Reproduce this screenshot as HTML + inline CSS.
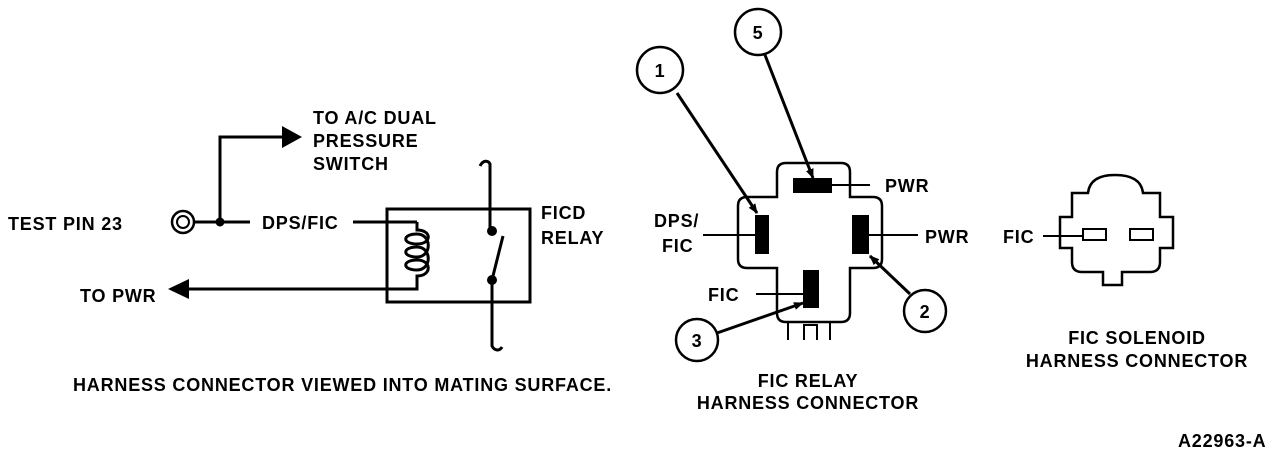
<!DOCTYPE html>
<html><head><style>
html,body{margin:0;padding:0;background:#fff;}
svg{display:block}
text{font-family:"Liberation Sans",Arial,sans-serif;font-weight:bold;font-size:18px;letter-spacing:0.8px;fill:#000}
</style></head><body>
<svg width="1280" height="458" viewBox="0 0 1280 458" xmlns="http://www.w3.org/2000/svg">
<defs>
<marker id="ah" markerWidth="10" markerHeight="8" refX="9" refY="4" orient="auto" markerUnits="userSpaceOnUse">
<path d="M0,0 L10,4 L0,8 z" fill="#000"/></marker>
</defs>
<g stroke="#000" stroke-width="3" fill="none">
<circle cx="183" cy="222" r="11" stroke-width="2.5"/>
<circle cx="183" cy="222" r="6" stroke-width="2"/>
<line x1="194" y1="222" x2="250" y2="222"/>
<polyline points="220,222 220,137 284,137"/>
<line x1="353" y1="222" x2="417" y2="222"/>
<rect x="387" y="209" width="143" height="93"/>
<path d="M417,222 V230 C432,230 432,244 417,244 C402,244 402,234 417,234 C432,234 432,257 417,257 C402,257 402,247 417,247 C432,247 432,270 417,270 C402,270 402,260 417,260 C432,260 432,276 417,276 V289 H186"/>
<path d="M480,166 C483,160 488,160 490,164 V231"/>
<line x1="492" y1="280" x2="503" y2="236"/>
<path d="M492,280 V346 C494,350 499,352 502,347"/>
<path d="M777,197 V172 Q777,163 786,163 H841 Q850,163 850,172 V197 H873 Q882,197 882,206 V259 Q882,268 873,268 H850 V313 Q850,322 841,322 H786 Q777,322 777,313 V268 H747 Q738,268 738,259 V206 Q738,197 747,197 Z" stroke-width="2.5"/>
<path d="M788,322 V340 M830,322 V340 M804,340 V325 H817 V340" stroke-width="2"/>
<line x1="832" y1="185" x2="870" y2="185" stroke-width="2"/>
<line x1="869" y1="235" x2="918" y2="235" stroke-width="2"/>
<line x1="703" y1="235" x2="755" y2="235" stroke-width="2"/>
<line x1="756" y1="294" x2="803" y2="294" stroke-width="2"/>
<circle cx="660" cy="70" r="23" stroke-width="2.5"/>
<circle cx="758" cy="32" r="23" stroke-width="2.5"/>
<circle cx="925" cy="311" r="21" stroke-width="2.5"/>
<circle cx="697" cy="340" r="21" stroke-width="2.5"/>
<line x1="677" y1="93" x2="757" y2="213" marker-end="url(#ah)"/>
<line x1="765" y1="55" x2="813" y2="178" marker-end="url(#ah)"/>
<line x1="910" y1="294" x2="870" y2="256" marker-end="url(#ah)"/>
<line x1="717" y1="333" x2="803" y2="303" marker-end="url(#ah)"/>
<path d="M1088,193 Q1090,175 1115,175 Q1141,175 1143,193 H1160 V217 H1173 V248 H1160 V262 Q1160,272 1150,272 H1122 V285 H1103 V272 H1082 Q1072,272 1072,262 V248 H1060 V217 H1072 V193 Z" stroke-width="2.5"/>
<rect x="1083" y="229" width="23" height="11" stroke-width="2"/>
<rect x="1130" y="229" width="23" height="11" stroke-width="2"/>
<line x1="1043" y1="236" x2="1083" y2="236" stroke-width="2"/>
</g>
<g fill="#000">
<circle cx="220" cy="222" r="4.5"/>
<path d="M282,126 L302,137 L282,148 z"/>
<path d="M168,289 L189,279 L189,299 z"/>
<circle cx="492" cy="231" r="5"/>
<circle cx="492" cy="280" r="5"/>
<rect x="793" y="178" width="39" height="15"/>
<rect x="755" y="215" width="14" height="39"/>
<rect x="852" y="215" width="17" height="39"/>
<rect x="803" y="270" width="16" height="38"/>
</g>
<text x="313" y="124">TO A/C DUAL</text>
<text x="313" y="147">PRESSURE</text>
<text x="313" y="170">SWITCH</text>
<text x="8" y="230">TEST PIN 23</text>
<text x="262" y="229">DPS/FIC</text>
<text x="541" y="219">FICD</text>
<text x="541" y="244">RELAY</text>
<text x="80" y="302">TO PWR</text>
<text x="73" y="391">HARNESS CONNECTOR VIEWED INTO MATING SURFACE.</text>
<text x="885" y="192">PWR</text>
<text x="925" y="243">PWR</text>
<text x="654" y="227">DPS/</text>
<text x="662" y="252">FIC</text>
<text x="708" y="301">FIC</text>
<text x="808" y="387" text-anchor="middle">FIC RELAY</text>
<text x="808" y="409" text-anchor="middle">HARNESS CONNECTOR</text>
<text x="1003" y="243">FIC</text>
<text x="1137" y="344" text-anchor="middle">FIC SOLENOID</text>
<text x="1137" y="367" text-anchor="middle">HARNESS CONNECTOR</text>
<text x="1178" y="447">A22963-A</text>
<text x="660" y="77" text-anchor="middle" font-size="19">1</text>
<text x="758" y="39" text-anchor="middle" font-size="19">5</text>
<text x="925" y="318" text-anchor="middle" font-size="19">2</text>
<text x="697" y="347" text-anchor="middle" font-size="19">3</text>
</svg>
</body></html>
